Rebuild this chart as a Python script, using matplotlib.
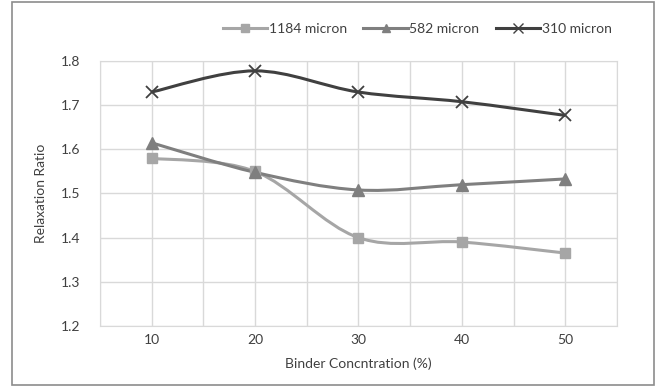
import numpy as np
import matplotlib.pyplot as plt
from matplotlib.path import Path
from matplotlib.patches import PathPatch, Rectangle
from matplotlib.lines import Line2D

plt.rcParams['font.family'] = ['Lato', 'DejaVu Sans']

binder = [10, 20, 30, 40, 50]
r_1184 = [1.580, 1.550, 1.400, 1.390, 1.365]
r_582 = [1.615, 1.548, 1.508, 1.520, 1.533]
r_310 = [1.730, 1.778, 1.730, 1.708, 1.677]

series = [
    ('1184 micron', r_1184, '#a6a6a6', 's', 7),
    ('582 micron', r_582, '#7f7f7f', '^', 8),
    ('310 micron', r_310, '#404040', 'x', 9),
]


def smooth_path(xs, ys, t=1/6):
    # cardinal-spline style smoothing between points, as bezier segments
    xs = np.asarray(xs, float)
    ys = np.asarray(ys, float)
    pts = np.column_stack([xs, ys])
    verts = [pts[0]]
    codes = [Path.MOVETO]
    n = len(pts)
    for i in range(n - 1):
        p0 = pts[max(i - 1, 0)]
        p1 = pts[i]
        p2 = pts[i + 1]
        p3 = pts[min(i + 2, n - 1)]
        c1 = p1 + (p2 - p0) * t
        c2 = p2 - (p3 - p1) * t
        verts += [c1, c2, p2]
        codes += [Path.CURVE4] * 3
    return Path(verts, codes)


fig = plt.figure(figsize=(6.57, 3.87), dpi=100)
ax = fig.add_axes([0.152, 0.158, 0.787, 0.684])

handles = []
for label, vals, color, marker, ms in series:
    patch = PathPatch(smooth_path(binder, vals), facecolor='none',
                      edgecolor=color, lw=2.2, zorder=3)
    ax.add_patch(patch)
    if marker == 'x':
        ax.plot(binder, vals, ls='none', marker='x', ms=ms, mew=1.3,
                color=color, zorder=4)
    else:
        ax.plot(binder, vals, ls='none', marker=marker, ms=ms,
                color=color, mec=color, zorder=4)
    handles.append(Line2D([], [], color=color, lw=2.2, marker=marker,
                          ms=ms * 0.75, mew=1.0))

ax.set_xlim(5, 55)
ax.set_ylim(1.2, 1.8)
ax.set_xticks(np.arange(5, 56, 5))
ax.set_xticklabels(['' if v % 10 else str(v) for v in range(5, 56, 5)])
ax.set_yticks(np.arange(1.2, 1.81, 0.1))
ax.set_yticklabels(['%.1f' % v for v in np.arange(1.2, 1.81, 0.1)])
ax.grid(True, color='#d9d9d9', lw=1)
ax.set_axisbelow(True)
ax.tick_params(axis='x', length=0, labelsize=10, colors='#404040', pad=6)
ax.tick_params(axis='y', length=0, labelsize=10, colors='#404040', pad=14)
for s in ax.spines.values():
    s.set_color('#d9d9d9')

ax.set_xlabel('Binder Concntration (%)', fontsize=10, color='#404040', labelpad=8)
ax.set_ylabel('Relaxation Ratio', fontsize=10, color='#404040', labelpad=10)

fig.legend(handles=handles, labels=[s[0] for s in series], loc='center',
           bbox_to_anchor=(0.635, 0.925), ncol=3, frameon=False, fontsize=10,
           handlelength=3.2, columnspacing=1.2, handletextpad=0.1,
           labelcolor='#404040')

# outer chart border
fig.patches.append(Rectangle((12 / 657, 2 / 387), 642 / 657, 383 / 387,
                             transform=fig.transFigure, fill=False,
                             edgecolor='#8c8c8c', lw=1.2))

fig.savefig('out.png', dpi=100)
